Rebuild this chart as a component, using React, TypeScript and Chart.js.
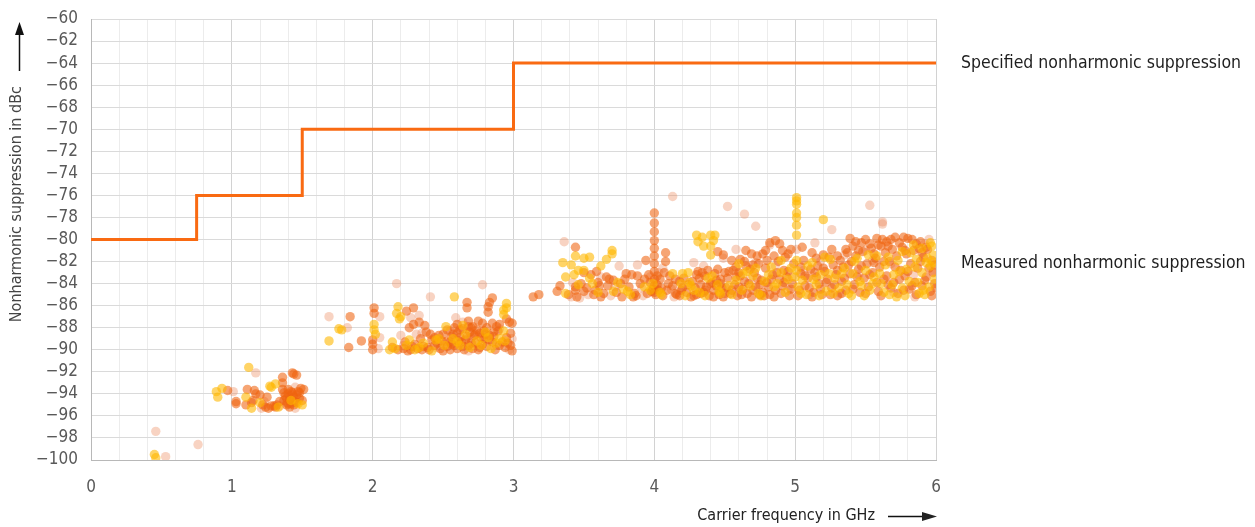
import React, { useEffect, useRef } from "react";
import { Chart, registerables } from "chart.js";

Chart.register(...registerables);

const FONT = "'Liberation Sans Narrow','DejaVu Sans Condensed',Roboto,sans-serif";

const xTitle = "Carrier frequency in GHz";
const yTitle = "Nonharmonic suppression in dBc";
const specLabel = "Specified nonharmonic suppression";
const measLabel = "Measured nonharmonic suppression";

const yMin = -100;
const yMax = -60;
const xMin = 0;
const xMax = 6;

// Specified limit (step line)
const specFreq = [0, 0.75, 1.5, 3, 6];
const specLevel = [-80, -76, -70, -64, -64];

type P = [number, number];

const measuredPale: P[] = [
  [0.46, -97.4], [0.53, -99.7], [0.76, -98.6], [1.01, -93.8], [1.17, -92.1], [1.39, -94.8], [1.34, -95.1], [1.45, -95.3], [1.23, -94.7],
  [1.69, -87.0], [1.82, -88.0], [2.05, -87.0], [2.05, -88.9], [2.04, -89.9], [2.17, -84.0], [2.27, -87.1], [2.33, -86.9], [2.31, -88.6],
  [2.41, -85.2], [2.59, -87.1], [2.64, -87.5], [2.78, -84.1], [2.45, -89.8], [2.7, -88.9], [2.88, -89.6], [2.97, -90.0], [2.22, -89.6],
  [2.55, -88.3], [2.99, -89.0],
  [3.36, -80.2], [3.42, -83.9], [3.41, -85.2], [3.53, -85.0], [3.62, -83.4], [3.75, -82.4], [3.88, -82.3], [3.91, -84.4], [3.92, -85.1],
  [4.14, -85.2], [4.35, -82.4], [4.03, -83.0], [3.97, -83.4], [4.12, -84.5], [3.69, -85.1], [4.13, -76.1],
  [4.52, -77.0], [4.64, -77.7], [4.72, -78.8], [5.14, -80.3], [5.26, -79.1], [5.53, -76.9], [5.62, -78.4], [5.62, -78.6], [5.95, -80.0],
  [4.49, -81.7], [4.82, -80.5], [4.6, -84.8], [4.75, -85.1], [4.95, -84.6], [5.1, -85.0], [5.32, -84.9], [5.45, -83.2], [5.7, -84.8],
  [5.85, -85.2], [5.98, -82.9], [4.86, -82.4], [5.55, -81.9], [4.68, -83.6], [5.06, -82.8], [5.01, -80.9],
  [3.47, -85.3], [3.72, -84.3], [4.06, -82.6], [4.28, -82.1], [4.58, -80.9], [4.72, -82.1], [4.98, -83.4], [5.18, -82.0], [5.35, -81.4],
  [5.5, -81.0], [5.68, -82.2], [5.84, -83.2], [5.92, -80.4], [2.35, -88.5], [2.68, -90.1], [2.9, -88.1], [2.2, -88.7], [1.45, -93.4],
  [1.21, -95.3],
];

const measuredYellow: P[] = [
  [0.45, -99.5], [0.46, -99.8], [0.89, -93.8], [0.9, -94.3], [0.93, -93.5], [1.12, -91.6], [1.1, -94.3], [1.14, -95.3], [1.27, -93.3],
  [1.31, -93.1], [1.28, -93.4], [1.47, -94.9], [1.5, -95.0], [1.42, -94.6], [1.33, -95.2], [1.2, -94.8],
  [1.78, -88.2], [1.76, -88.1], [1.69, -89.2], [2.01, -87.7], [2.01, -88.2], [2.02, -88.6], [2.18, -86.1], [2.17, -86.7], [2.2, -87.0],
  [2.14, -89.3], [2.26, -89.1], [2.47, -89.0], [2.58, -85.2], [2.52, -87.9], [2.93, -88.3], [2.95, -85.8], [2.93, -86.4], [2.93, -86.8],
  [2.16, -89.9], [2.3, -90.0], [2.36, -89.4], [2.62, -89.6], [2.74, -89.2], [2.84, -89.9], [2.66, -88.6], [2.9, -89.0], [2.12, -90.0],
  [2.42, -90.1], [2.8, -88.4], [2.57, -89.0],
  [2.24, -89.6], [2.33, -89.8], [2.45, -89.1], [2.51, -89.6], [2.6, -89.3], [2.69, -89.8], [2.77, -89.6], [2.82, -88.9], [2.88, -89.4],
  [2.94, -89.2], [2.19, -87.2], [2.95, -86.2], [2.64, -87.8],
  [3.44, -81.5], [3.5, -81.7], [3.54, -81.6], [3.7, -81.0], [3.7, -81.3], [3.66, -81.8], [3.62, -82.4], [3.41, -82.3], [3.46, -82.8],
  [3.5, -82.8], [3.37, -83.4], [3.54, -83.5], [3.46, -84.1], [3.37, -84.9], [3.71, -84.7], [3.78, -84.5], [3.81, -84.7], [3.97, -84.6],
  [4.2, -83.1], [4.24, -83.0], [4.25, -83.9], [4.3, -79.6], [4.34, -79.8], [4.4, -79.6], [4.43, -79.6], [4.42, -80.1], [4.31, -80.2],
  [4.35, -80.6], [4.4, -80.6], [4.4, -81.4], [3.99, -84.0], [4.05, -85.0], [4.28, -84.6], [4.38, -83.5], [4.47, -84.9], [4.22, -85.1],
  [3.6, -84.8],
  [3.35, -82.1], [3.43, -83.2], [3.56, -84.0], [3.74, -83.9], [3.83, -85.0], [3.93, -84.3], [4.04, -84.8], [4.13, -83.1], [4.19, -84.0],
  [4.26, -84.2], [4.32, -84.8], [4.36, -85.1], [4.41, -83.3], [4.45, -84.1],
  [5.01, -76.2], [5.01, -76.5], [5.01, -76.8], [5.01, -77.6], [5.01, -78.0], [5.01, -78.7], [5.01, -79.6], [5.01, -81.9], [5.01, -82.8],
  [5.0, -83.4], [5.02, -84.3], [5.2, -78.2],
  [4.53, -84.2], [4.58, -83.7], [4.62, -84.6], [4.66, -82.9], [4.7, -83.3], [4.74, -84.9], [4.78, -83.8], [4.83, -82.5], [4.85, -84.3],
  [4.9, -83.0], [4.93, -84.8], [4.97, -82.6], [5.05, -83.7], [5.08, -85.0], [5.12, -82.1], [5.15, -84.1], [5.18, -83.2], [5.22, -84.7],
  [5.25, -81.8], [5.28, -83.5], [5.31, -84.4], [5.35, -82.6], [5.38, -84.9], [5.41, -83.1], [5.44, -81.7], [5.47, -84.2], [5.5, -82.8],
  [5.53, -84.6], [5.56, -83.4], [5.58, -81.5], [5.61, -84.0], [5.64, -82.3], [5.67, -85.0], [5.7, -83.2], [5.73, -81.9], [5.76, -84.4],
  [5.79, -82.7], [5.81, -83.8], [5.84, -80.5], [5.86, -81.8], [5.88, -84.9], [5.9, -83.0], [5.93, -82.1], [5.95, -84.3], [5.97, -80.6],
  [5.98, -81.4], [5.99, -83.6], [5.96, -82.4], [5.92, -85.0], [4.46, -84.7], [5.72, -85.2], [5.4, -85.1],
  [4.55, -85.0], [4.6, -82.2], [4.63, -83.1], [4.68, -84.2], [4.72, -82.6], [4.76, -85.1], [4.81, -83.2], [4.87, -84.0], [4.9, -81.9],
  [4.95, -83.6], [5.04, -84.9], [5.09, -82.4], [5.13, -83.6], [5.17, -85.1], [5.21, -81.6], [5.24, -83.1], [5.27, -84.9], [5.33, -83.1],
  [5.37, -84.1], [5.42, -82.0], [5.46, -83.8], [5.49, -85.1], [5.52, -81.4], [5.55, -84.0], [5.6, -83.1], [5.63, -84.8], [5.66, -81.6],
  [5.69, -84.1], [5.74, -82.9], [5.78, -85.1], [5.82, -81.2], [5.85, -82.5], [5.87, -83.9], [5.91, -84.6], [5.94, -81.7], [5.98, -82.1],
  [5.96, -80.3], [5.9, -80.8], [5.76, -81.1],
];

const measuredOrange: P[] = [
  [0.97, -93.7], [1.03, -94.7], [1.03, -94.9], [1.11, -93.6], [1.1, -95.0], [1.14, -94.8], [1.16, -93.7], [1.17, -94.0], [1.2, -94.1],
  [1.25, -94.3], [1.24, -95.2], [1.26, -95.3], [1.3, -95.1], [1.31, -95.2], [1.32, -95.0], [1.34, -94.7], [1.36, -92.5], [1.36, -93.0],
  [1.36, -93.6], [1.43, -92.1], [1.46, -92.3], [1.44, -92.2], [1.49, -93.5], [1.51, -93.6], [1.38, -94.2], [1.4, -94.0], [1.41, -94.5],
  [1.42, -94.9], [1.43, -93.9], [1.44, -94.3], [1.45, -94.7], [1.46, -94.1], [1.47, -93.8], [1.48, -94.4], [1.39, -95.0], [1.41, -95.2],
  [1.5, -94.6], [1.37, -93.9], [1.15, -94.6], [1.4, -93.6],
  [1.39, -94.4], [1.42, -93.8], [1.44, -95.0], [1.46, -94.8], [1.48, -93.9], [1.4, -94.9], [1.37, -94.6], [1.43, -94.1], [1.22, -95.0],
  [1.28, -95.1],
  [1.84, -87.0], [1.83, -89.8], [1.92, -89.2], [2.01, -86.2], [2.01, -86.7], [2.0, -89.1], [2.0, -89.5], [2.0, -90.0], [2.24, -86.5],
  [2.29, -86.2], [2.33, -87.5], [2.37, -87.8], [2.26, -88.0], [2.29, -87.7], [2.38, -88.4], [2.34, -89.0], [2.42, -89.1], [2.67, -85.7],
  [2.67, -86.2], [2.85, -85.3], [2.83, -85.7], [2.82, -86.1], [2.82, -86.6], [2.95, -87.2], [2.97, -87.5], [2.99, -87.6], [2.98, -88.5],
  [2.68, -87.4], [2.75, -87.4], [2.78, -87.6], [2.9, -87.7],
  [2.14, -89.8], [2.18, -90.0], [2.22, -89.9], [2.25, -90.1], [2.28, -89.7], [2.32, -89.9], [2.35, -90.0], [2.39, -89.8], [2.44, -89.6],
  [2.48, -89.9], [2.5, -90.1], [2.53, -89.7], [2.56, -89.5], [2.6, -89.9], [2.63, -89.3], [2.65, -90.0], [2.68, -89.6], [2.71, -89.9],
  [2.73, -89.4], [2.76, -89.8], [2.79, -89.0], [2.81, -89.7], [2.85, -89.3], [2.87, -90.0], [2.9, -89.6], [2.94, -89.8], [2.96, -89.4],
  [2.99, -90.1], [2.5, -88.6], [2.53, -88.2], [2.56, -88.8], [2.58, -88.0], [2.6, -88.5], [2.62, -88.9], [2.64, -88.1], [2.66, -89.1],
  [2.69, -88.4], [2.71, -87.9], [2.72, -88.7], [2.74, -88.2], [2.77, -88.9], [2.79, -88.3], [2.81, -88.0], [2.83, -88.7], [2.86, -88.4],
  [2.88, -87.9], [2.6, -87.7], [2.7, -88.0], [2.47, -88.7], [2.44, -88.9], [2.55, -89.3],
  [2.23, -89.3], [2.27, -90.0], [2.3, -89.5], [2.36, -89.7], [2.4, -90.0], [2.46, -89.4], [2.52, -89.3], [2.55, -90.0], [2.58, -89.6],
  [2.61, -89.2], [2.64, -89.7], [2.67, -88.8], [2.7, -89.4], [2.73, -88.6], [2.75, -90.0], [2.78, -89.5], [2.8, -88.6], [2.83, -89.1],
  [2.86, -88.8], [2.89, -88.3], [2.92, -89.3], [2.95, -88.9], [2.98, -89.6], [2.62, -88.2], [2.68, -87.9], [2.76, -88.5], [2.85, -87.6],
  [2.57, -88.6], [2.49, -89.2], [2.41, -88.6],
  [3.14, -85.2], [3.18, -85.0], [3.31, -84.7], [3.44, -80.7], [3.5, -83.0], [3.44, -84.3], [3.44, -84.6], [3.45, -85.2], [3.5, -84.7],
  [3.57, -85.0], [3.6, -83.9], [3.61, -84.2], [3.66, -83.4], [3.68, -83.6], [3.62, -85.2], [3.71, -83.7], [3.76, -84.0], [3.77, -85.2],
  [3.84, -83.2], [3.88, -83.3], [3.86, -84.9], [3.87, -85.1], [4.08, -81.2], [4.08, -82.0], [4.15, -83.6], [4.15, -84.9], [4.1, -84.0],
  [4.45, -81.1], [4.49, -81.4], [4.18, -85.1],
  [3.33, -84.2], [3.39, -85.0], [3.48, -84.0], [3.52, -84.4], [3.55, -83.2], [3.58, -84.6], [3.64, -84.9], [3.67, -84.2], [3.73, -84.8],
  [3.79, -83.6], [3.82, -84.3], [3.85, -85.2], [3.9, -84.0], [3.93, -83.6], [3.59, -82.9], [3.8, -83.1], [3.94, -81.9],
  [4.0, -77.6], [4.0, -78.5], [4.0, -79.3], [4.0, -80.1], [4.0, -80.8], [4.0, -81.5], [4.0, -82.2], [4.0, -82.9], [4.0, -83.6],
  [4.0, -84.2], [4.0, -84.8], [4.02, -83.3], [3.99, -84.5], [4.01, -85.0],
  [3.96, -83.2], [3.97, -83.9], [3.98, -84.7], [4.02, -84.1], [4.04, -83.6], [4.05, -84.4], [4.07, -83.0], [4.06, -85.1], [3.95, -84.9],
  [4.09, -84.6],
  [4.27, -83.8], [4.29, -84.4], [4.3, -85.0], [4.32, -83.5], [4.33, -84.1], [4.35, -84.8], [4.36, -83.3], [4.37, -84.3], [4.39, -85.1],
  [4.41, -83.9], [4.42, -84.6], [4.43, -83.1], [4.44, -84.2], [4.46, -85.0], [4.47, -83.6], [4.48, -84.4], [4.5, -83.0], [4.5, -84.9],
  [4.26, -85.2], [4.34, -83.0], [4.45, -82.7], [4.31, -82.9], [4.2, -84.4], [4.23, -84.8], [4.18, -83.8],
  [4.03, -84.6], [4.11, -83.3], [4.13, -84.2], [4.16, -85.0], [4.19, -84.6], [4.21, -83.5], [4.24, -84.1], [4.28, -85.1], [4.3, -83.2],
  [4.33, -84.9], [4.36, -84.6], [4.38, -82.8], [4.4, -84.0], [4.42, -85.2], [4.44, -83.7], [4.47, -84.0], [4.49, -85.2],
  [5.39, -79.9], [5.43, -80.2], [5.5, -80.0], [5.58, -79.9], [5.62, -80.0], [5.65, -80.2], [5.68, -80.0], [5.71, -79.8], [5.77, -79.8],
  [5.8, -79.9], [5.83, -80.0], [5.89, -80.2],
  [4.82, -80.3], [4.89, -80.4], [4.91, -81.0], [4.69, -81.3], [4.73, -81.5], [4.77, -81.3], [4.79, -81.0], [4.61, -81.8], [5.26, -80.9],
  [4.86, -80.1],
  [4.52, -83.5], [4.54, -84.9], [4.56, -82.8], [4.57, -84.1], [4.59, -85.1], [4.61, -83.3], [4.63, -84.5], [4.65, -82.4], [4.67, -84.0],
  [4.69, -85.2], [4.71, -83.0], [4.72, -84.3], [4.74, -82.2], [4.76, -83.7], [4.77, -84.8], [4.79, -82.6], [4.8, -83.9], [4.82, -85.0],
  [4.84, -83.2], [4.86, -84.6], [4.88, -82.0], [4.89, -83.6], [4.91, -84.2], [4.92, -82.8], [4.94, -83.4], [4.96, -85.1], [4.98, -84.0],
  [4.99, -82.2], [5.03, -84.6], [5.04, -83.1], [5.06, -81.9], [5.07, -84.2], [5.09, -83.5], [5.11, -82.7], [5.13, -84.8], [5.14, -83.0],
  [5.16, -82.4], [5.17, -84.0], [5.19, -85.0], [5.21, -82.9], [5.23, -83.6], [5.24, -81.6], [5.26, -84.4], [5.27, -82.3], [5.29, -83.2],
  [5.3, -85.1], [5.32, -81.9], [5.33, -83.8], [5.34, -82.5], [5.36, -84.6], [5.37, -81.2], [5.39, -83.1], [5.4, -82.0], [5.42, -84.1],
  [5.43, -81.5], [5.45, -82.7], [5.46, -84.8], [5.48, -81.1], [5.49, -83.5], [5.51, -82.2], [5.52, -84.3], [5.54, -80.8], [5.55, -83.0],
  [5.57, -81.7], [5.59, -84.7], [5.6, -82.5], [5.61, -80.6], [5.63, -83.6], [5.64, -81.2], [5.66, -84.1], [5.67, -82.0], [5.69, -80.9],
  [5.7, -83.9], [5.72, -81.5], [5.73, -84.9], [5.75, -82.8], [5.76, -80.7], [5.78, -83.3], [5.79, -81.3], [5.81, -84.5], [5.82, -82.2],
  [5.84, -81.0], [5.85, -83.9], [5.87, -82.6], [5.88, -80.8], [5.9, -84.2], [5.91, -81.6], [5.93, -83.4], [5.94, -80.9], [5.96, -84.7],
  [5.97, -81.9], [5.98, -83.0], [6.0, -84.4], [5.99, -82.3],
  [4.55, -81.9], [4.64, -82.0], [4.7, -82.3], [4.8, -81.9], [4.93, -81.6], [4.97, -80.9], [4.6, -83.0], [4.75, -85.0], [5.05, -80.7],
  [5.12, -81.2], [5.2, -81.4],
  [4.51, -84.4], [4.53, -82.9], [4.55, -84.6], [4.58, -83.4], [4.6, -84.3], [4.62, -85.0], [4.64, -83.8], [4.66, -84.9], [4.68, -82.7],
  [4.7, -84.6], [4.73, -83.5], [4.75, -84.1], [4.78, -85.1], [4.81, -84.3], [4.83, -83.6], [4.85, -85.2], [4.87, -83.0], [4.9, -84.9],
  [4.92, -83.9], [4.95, -82.9], [4.97, -84.5], [5.02, -85.1], [5.04, -82.5], [5.07, -83.3], [5.1, -84.4], [5.12, -85.2], [5.15, -83.4],
  [5.18, -84.5], [5.2, -82.6], [5.22, -83.9], [5.25, -85.0], [5.28, -84.1], [5.3, -82.8], [5.33, -84.9], [5.35, -83.5], [5.38, -82.3],
  [5.41, -84.5], [5.44, -83.4], [5.47, -82.4], [5.5, -84.9], [5.53, -83.2], [5.56, -82.1], [5.58, -83.9], [5.61, -85.1], [5.63, -82.0],
  [5.65, -83.3], [5.68, -84.4], [5.71, -82.5], [5.74, -83.6], [5.77, -84.6], [5.8, -82.9], [5.83, -84.2], [5.86, -85.0], [5.89, -82.0],
  [5.92, -83.7], [5.95, -82.6], [5.97, -85.1], [5.99, -84.0], [5.41, -80.6], [5.47, -80.3], [5.53, -80.4], [5.59, -80.5], [5.66, -80.6],
  [5.74, -80.3], [5.86, -80.4], [5.93, -80.7], [5.36, -80.9], [5.45, -81.0], [5.56, -81.3], [5.78, -81.0], [5.9, -81.2], [4.85, -81.5],
  [4.95, -81.3], [4.65, -81.0], [4.58, -82.5], [5.15, -81.7], [5.3, -81.5],
];

const toXY = (pts: P[]) => pts.map(([x, y]) => ({ x, y }));

const annotations = {
  id: "annotations",
  afterDraw(chart: any) {
    const ctx = chart.ctx as CanvasRenderingContext2D;
    ctx.save();
    // right-hand labels
    ctx.fillStyle = "#1e1e1e";
    ctx.font = `17.5px ${FONT}`;
    ctx.textBaseline = "middle";
    ctx.textAlign = "left";
    ctx.fillText(specLabel, 961, 63);
    ctx.fillText(measLabel, 961, 263);

    // y title (rotated) with arrow
    ctx.save();
    ctx.fillStyle = "#444";
    ctx.font = `16px ${FONT}`;
    ctx.translate(17, 86);
    ctx.rotate(-Math.PI / 2);
    ctx.textAlign = "right";
    ctx.textBaseline = "middle";
    ctx.fillText(yTitle, 0, 0);
    ctx.restore();

    ctx.strokeStyle = "#111";
    ctx.fillStyle = "#111";
    ctx.lineWidth = 1.5;
    ctx.beginPath();
    ctx.moveTo(19.5, 71);
    ctx.lineTo(19.5, 32);
    ctx.stroke();
    ctx.beginPath();
    ctx.moveTo(19.5, 22);
    ctx.lineTo(15, 35);
    ctx.lineTo(24, 35);
    ctx.closePath();
    ctx.fill();

    // x title with arrow
    ctx.fillStyle = "#222";
    ctx.font = `16px ${FONT}`;
    ctx.textAlign = "right";
    ctx.textBaseline = "middle";
    ctx.fillText(xTitle, 875, 516);
    ctx.beginPath();
    ctx.moveTo(888, 516.5);
    ctx.lineTo(926, 516.5);
    ctx.stroke();
    ctx.beginPath();
    ctx.moveTo(937, 516.5);
    ctx.lineTo(922, 512);
    ctx.lineTo(922, 521);
    ctx.closePath();
    ctx.fill();
    ctx.restore();
  },
};

export default function App() {
  const ref = useRef<HTMLCanvasElement>(null);

  useEffect(() => {
    if (!ref.current) return;
    const pointStyle = (color: string) => ({
      backgroundColor: color,
      borderWidth: 0,
      pointRadius: 4.7,
      pointHoverRadius: 4.7,
    });
    const chart = new Chart(ref.current, {
      type: "scatter",
      data: {
        datasets: [
          {
            type: "line",
            label: specLabel,
            data: specFreq.map((x, i) => ({ x, y: specLevel[i] })),
            borderColor: "#f96a12",
            borderWidth: 3,
            pointRadius: 0,
            stepped: "before",
            fill: false,
          } as any,
          { label: "yellow", data: toXY(measuredYellow), ...pointStyle("rgba(255,184,0,0.6)") },
          { label: "orange", data: toXY(measuredOrange), ...pointStyle("rgba(240,100,15,0.58)") },
          { label: "pale", data: toXY(measuredPale), ...pointStyle("rgba(236,130,80,0.35)") },
        ],
      },
      options: {
        animation: false,
        responsive: true,
        maintainAspectRatio: false,
        layout: { padding: { top: 19, right: 319, left: 0, bottom: 0 } },
        plugins: { legend: { display: false }, tooltip: { enabled: false } },
        scales: {
          x: {
            type: "linear",
            min: xMin,
            max: xMax,
            afterFit: (s: any) => {
              s.height = 67;
              s.paddingLeft = 0;
              s.paddingRight = 0;
            },
            ticks: {
              stepSize: 0.2,
              autoSkip: false,
              maxRotation: 0,
              padding: 17,
              color: "#595959",
              font: { family: FONT, size: 17 },
              callback: (v: any) => {
                const n = Number(v);
                return Math.abs(n - Math.round(n)) < 1e-6 ? String(Math.round(n)) : "";
              },
            },
            grid: {
              drawTicks: false,
              color: (c: any) => {
                const n = c.tick ? c.tick.value : 0;
                return Math.abs(n - Math.round(n)) < 1e-6 ? "#d2d2d2" : "#ececec";
              },
              lineWidth: 1,
            },
            border: { color: "#b8b8b8", width: 1 },
          },
          y: {
            type: "linear",
            min: yMin,
            max: yMax,
            afterFit: (s: any) => {
              s.width = 91;
              s.paddingTop = 0;
              s.paddingBottom = 0;
            },
            ticks: {
              stepSize: 2,
              autoSkip: false,
              padding: 13,
              color: "#595959",
              font: { family: FONT, size: 17 },
              callback: (v: any) => {
                const n = Number(v);
                return n < 0 ? "\u2212" + Math.abs(n) : String(n);
              },
            },
            grid: { drawTicks: false, color: "#dadada", lineWidth: 1 },
            border: { color: "#b8b8b8", width: 1 },
          },
        },
      },
      plugins: [annotations],
    });
    return () => chart.destroy();
  }, []);

  return (
    <div style={{ position: "absolute", left: 0, top: 0, width: 1255, height: 527, background: "#fff" }}>
      <canvas ref={ref} />
    </div>
  );
}
